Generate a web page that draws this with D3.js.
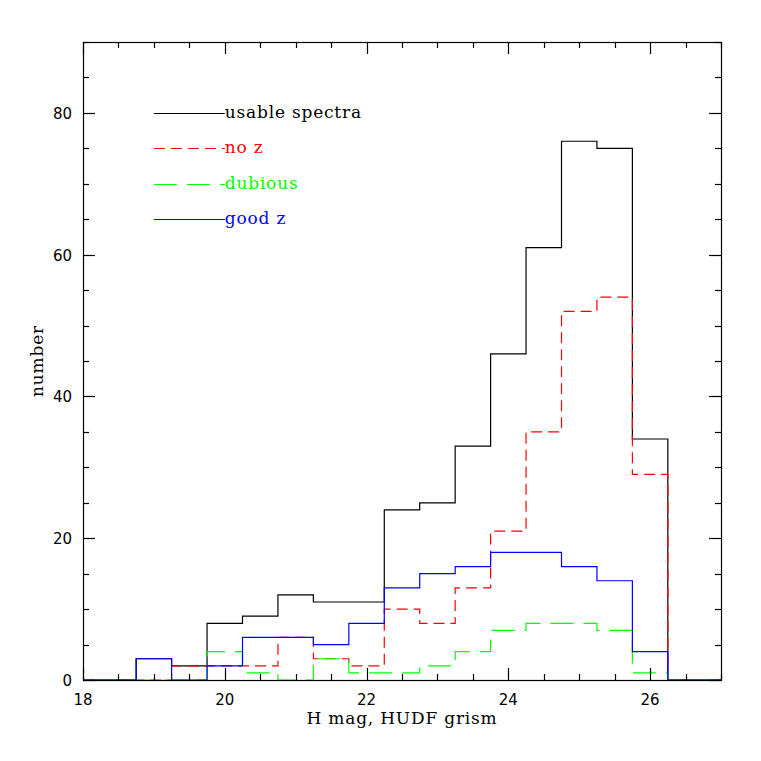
<!DOCTYPE html>
<html>
<head>
<meta charset="UTF-8">
<title>H mag histogram</title>
<script src="https://cdn.jsdelivr.net/npm/d3@7/dist/d3.min.js"></script>
<style>
  body { margin: 0; background: #fff; }
  .num { font-family: "DejaVu Sans", sans-serif; font-size: 15px; }
  .lab { font-family: "DejaVu Serif", serif; font-size: 17px; letter-spacing: 0.8px; }
</style>
</head>
<body>
<svg width="761" height="761"></svg>
<script>
// bin centres (width 0.5) and counts per bin
var binCentres = [18, 18.5, 19, 19.5, 20, 20.5, 21, 21.5, 22, 22.5, 23, 23.5, 24, 24.5, 25, 25.5, 26, 26.5, 27];
var usable  = [0, 0, 3, 2, 8, 9, 12, 11, 11, 24, 25, 33, 46, 61, 76, 75, 34, 0, 0];
var noZ     = [0, 0, 0, 2, 2, 2, 6, 3, 2, 10, 8, 13, 21, 35, 52, 54, 29, 0, 0];
var dubious = [0, 0, 0, 0, 4, 1, 0, 3, 1, 1, 2, 4, 7, 8, 8, 7, 1, 0, 0];
var goodZ   = [0, 0, 3, 0, 2, 6, 6, 5, 8, 13, 15, 16, 18, 18, 16, 14, 4, 0, 0];
var binWidth = 0.5;

var xTickLabels = [18, 20, 22, 24, 26];
var yTickLabels = [0, 20, 40, 60, 80];

var series = [
  {name: "usable spectra", values: usable,  color: "#000000", dash: null},
  {name: "no z",           values: noZ,     color: "#ff0000", dash: "11,6"},
  {name: "dubious",        values: dubious, color: "#00ff00", dash: "23,10"},
  {name: "good z",         values: goodZ,   color: "#0000ff", dash: null}
];

var svg = d3.select("svg");
var pLeft = 83, pRight = 721, pTop = 42, pBottom = 680;

var x = d3.scaleLinear().domain([18, 27]).range([pLeft, pRight]);
var y = d3.scaleLinear().domain([0, 90]).range([pBottom, pTop]);

svg.append("defs").append("clipPath").attr("id", "plot")
  .append("rect").attr("x", pLeft).attr("y", pTop)
  .attr("width", pRight - pLeft).attr("height", pBottom - pTop);

// histogram steps
var line = d3.line()
  .x(function(d){ return x(d[0]); })
  .y(function(d){ return y(d[1]); })
  .curve(d3.curveStepAfter);

var g = svg.append("g").attr("clip-path", "url(#plot)");
series.forEach(function(s){
  var pts = binCentres.map(function(c, i){ return [c - binWidth / 2, s.values[i]]; });
  var last = binCentres.length - 1;
  pts.push([binCentres[last] + binWidth / 2, s.values[last]]);
  g.append("path")
    .attr("d", line(pts))
    .attr("fill", "none")
    .attr("stroke", s.color)
    .attr("stroke-width", 1.2)
    .attr("stroke-dasharray", s.dash);
});

// frame
svg.append("rect")
  .attr("x", pLeft + 0.5).attr("y", pTop + 0.5)
  .attr("width", pRight - pLeft).attr("height", pBottom - pTop)
  .attr("fill", "none").attr("stroke", "#000").attr("stroke-width", 1.2);

// ticks, inward on all four sides
var xMinor = d3.range(18, 27.001, 0.5);
var yMinor = d3.range(0, 90.001, 5);
var ticks = svg.append("g").attr("stroke", "#000").attr("stroke-width", 1.2);
xMinor.forEach(function(v){
  var len = (v % 2 === 0) ? 12 : 6;
  var px = Math.round(x(v)) + 0.5;
  ticks.append("line").attr("x1", px).attr("x2", px).attr("y1", pBottom).attr("y2", pBottom - len);
  ticks.append("line").attr("x1", px).attr("x2", px).attr("y1", pTop).attr("y2", pTop + len);
});
yMinor.forEach(function(v){
  var len = (v % 20 === 0) ? 12 : 6;
  var py = Math.round(y(v)) + 0.5;
  ticks.append("line").attr("y1", py).attr("y2", py).attr("x1", pLeft).attr("x2", pLeft + len);
  ticks.append("line").attr("y1", py).attr("y2", py).attr("x1", pRight).attr("x2", pRight - len);
});

// tick labels
svg.selectAll(".xl").data(xTickLabels).enter().append("text")
  .attr("class", "num")
  .attr("x", function(d){ return x(d); })
  .attr("y", pBottom + 25)
  .attr("text-anchor", "middle")
  .text(function(d){ return d; });

svg.selectAll(".yl").data(yTickLabels).enter().append("text")
  .attr("class", "num")
  .attr("x", pLeft - 11)
  .attr("y", function(d){ return y(d) + 6; })
  .attr("text-anchor", "end")
  .text(function(d){ return d; });

// axis titles
svg.append("text").attr("class", "lab")
  .attr("x", (pLeft + pRight) / 2).attr("y", 724)
  .attr("text-anchor", "middle")
  .text("H mag, HUDF grism");

svg.append("text").attr("class", "lab")
  .attr("transform", "translate(43," + ((pTop + pBottom) / 2) + ") rotate(-90)")
  .attr("text-anchor", "middle")
  .text("number");

// legend
var legendY = [80, 75, 70, 65];
series.forEach(function(s, i){
  var ly = Math.round(y(legendY[i])) + 0.5;
  svg.append("line")
    .attr("x1", x(19)).attr("x2", x(20))
    .attr("y1", ly).attr("y2", ly)
    .attr("stroke", s.color).attr("stroke-width", 1.2)
    .attr("stroke-dasharray", s.dash);
  svg.append("text").attr("class", "lab")
    .attr("x", x(20)).attr("y", ly + 4)
    .attr("fill", s.color)
    .text(s.name);
});
</script>
</body>
</html>
